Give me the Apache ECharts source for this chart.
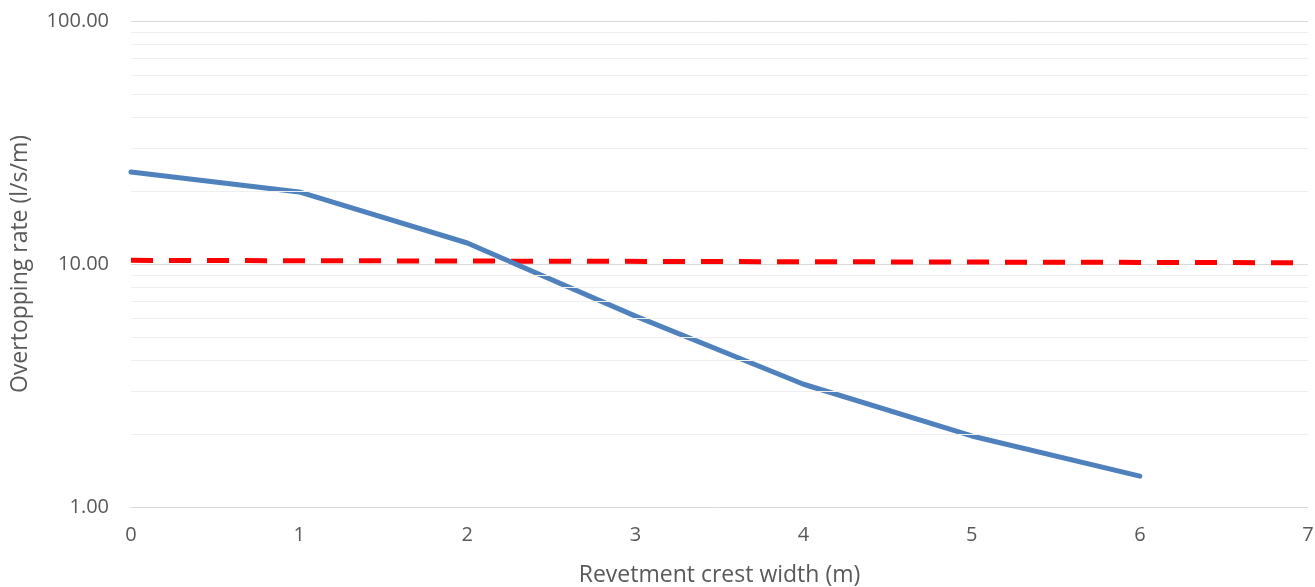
<!DOCTYPE html>
<html>
<head>
<meta charset="utf-8">
<title>Overtopping rate</title>
<style>
  html, body { margin: 0; padding: 0; background: #fff; }
  #main { width: 1315px; height: 587px; }
</style>
</head>
<body>
<div id="main"></div>
<script src="https://cdn.jsdelivr.net/npm/echarts@6/dist/echarts.min.js"></script>
<script>
// crest width (m) and overtopping rate (l/s/m)
var crestWidth = [0, 1, 2, 3, 4, 5, 6];
var overtopRate = [23.9, 19.8, 12.2, 6.1, 3.2, 1.96, 1.34];
// limit line (dashed red)
var limitX = [0, 7];
var limitY = [10.35, 10.12];
var xTicks = [0, 1, 2, 3, 4, 5, 6, 7];
var yTicks = [1, 10, 100];
var minorGrid = [2, 3, 4, 5, 6, 7, 8, 9, 20, 30, 40, 50, 60, 70, 80, 90];

var chart = echarts.init(document.getElementById('main'));

var font = "'Open Sans', 'Liberation Sans', sans-serif";

var option = {
    animation: false,
    grid: { left: 131, right: 7, top: 21, bottom: 80, outerBoundsMode: 'none', containLabel: false },
    xAxis: {
        type: 'value',
        min: xTicks[0],
        max: xTicks[xTicks.length - 1],
        interval: 1,
        name: 'Revetment crest width (m)',
        nameLocation: 'middle',
        nameGap: 57,
        nameTextStyle: { color: '#595959', fontSize: 23, fontFamily: font },
        axisLine: { show: true, lineStyle: { color: '#d9d9d9', width: 1 } },
        axisTick: { show: false },
        splitLine: { show: false },
        axisLabel: { color: '#595959', fontSize: 20, fontFamily: font, margin: 18 }
    },
    yAxis: {
        type: 'log',
        logBase: 10,
        min: yTicks[0],
        max: yTicks[yTicks.length - 1],
        name: 'Overtopping rate (l/s/m)',
        nameLocation: 'middle',
        nameGap: 99,
        nameTextStyle: { color: '#595959', fontSize: 23, fontFamily: font },
        axisLine: { show: false },
        axisTick: { show: false },
        splitLine: { show: true, lineStyle: { color: '#d9d9d9', width: 1 } },
        axisLabel: {
            color: '#595959', fontSize: 20, fontFamily: font, margin: 22,
            formatter: function (v) { return v.toFixed(2); }
        }
    },
    series: [
        {
            name: 'minor grid',
            type: 'line',
            data: [],
            silent: true,
            markLine: {
                silent: true,
                symbol: 'none',
                label: { show: false },
                lineStyle: { color: '#efefef', width: 1, type: 'solid' },
                data: minorGrid.map(function (v) { return { yAxis: v }; })
            },
            z: 1
        },
        {
            name: 'Limit',
            type: 'line',
            data: limitX.map(function (x, i) { return [x, limitY[i]]; }),
            showSymbol: false,
            lineStyle: { color: '#ff0000', width: 5, type: [22, 16] },
            z: 3
        },
        {
            name: 'Overtopping rate',
            type: 'line',
            data: crestWidth.map(function (x, i) { return [x, overtopRate[i]]; }),
            showSymbol: false,
            lineStyle: { color: '#4f81bd', width: 5, cap: 'round', join: 'round' },
            z: 4
        }
    ]
};

chart.setOption(option);
window.addEventListener('resize', function () { chart.resize(); });
</script>
</body>
</html>
